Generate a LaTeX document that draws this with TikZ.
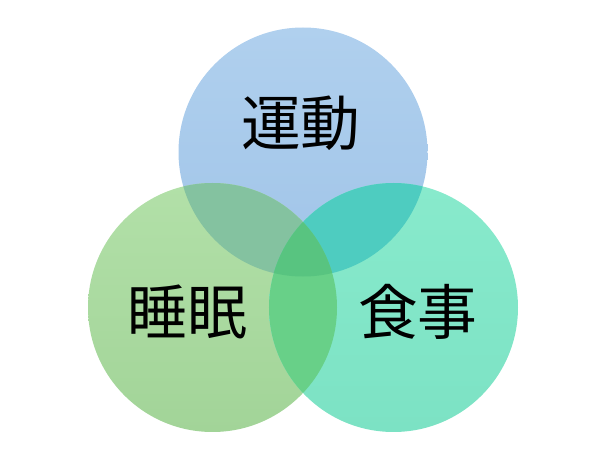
\documentclass[tikz,border=0pt]{standalone}
\usepackage{fontspec}
\newfontfamily\jpfont{Noto Sans CJK JP}
\definecolor{undouTop}{HTML}{B0D0EE}
\definecolor{undouBot}{HTML}{A0C4E8}
\definecolor{suiminTop}{HTML}{B2E0A8}
\definecolor{suiminBot}{HTML}{A2D498}
\definecolor{shokujiTop}{HTML}{88EACC}
\definecolor{shokujiBot}{HTML}{7CE2C4}
\definecolor{undouSuimin}{HTML}{84C2A0}
\definecolor{undouShokuji}{HTML}{4ECCC0}
\definecolor{suiminShokuji}{HTML}{68D088}
\definecolor{allThree}{HTML}{58C480}
\begin{document}
\begin{tikzpicture}
        [ring/.style={circle, minimum size=4.98cm, inner sep=0pt},
        word/.style={font=\jpfont\fontsize{34}{40}\selectfont, text=black}]
        \useasboundingbox (0,0) rectangle (12.14,-9.44);
        \node[ring, top color=undouTop, bottom color=undouBot] (U) at (6.06,-3.04) {};
        \node[ring, top color=suiminTop, bottom color=suiminBot] (S) at (4.25,-6.15) {};
        \node[ring, top color=shokujiTop, bottom color=shokujiBot] (F) at (7.87,-6.15) {};
        
        % overlaps
        \begin{scope}
            \clip (U.center) circle[radius=2.49cm];
            \fill[undouSuimin] (S.center) circle[radius=2.49cm];
            \fill[undouShokuji] (F.center) circle[radius=2.49cm];
        \end{scope}
        \begin{scope}
            \clip (S.center) circle[radius=2.49cm];
            \fill[suiminShokuji] (F.center) circle[radius=2.49cm];
            \clip (F.center) circle[radius=2.49cm];
            \fill[allThree] (U.center) circle[radius=2.49cm];
        \end{scope}
        
        \node[word] (undou) at (6.02,-2.46) {運動};
        \node[word] (suimin) at (3.75,-6.23) {睡眠};
        \node[word] (shokuji) at (8.36,-6.23) {食事};
    
    \end{tikzpicture}
\end{document}
